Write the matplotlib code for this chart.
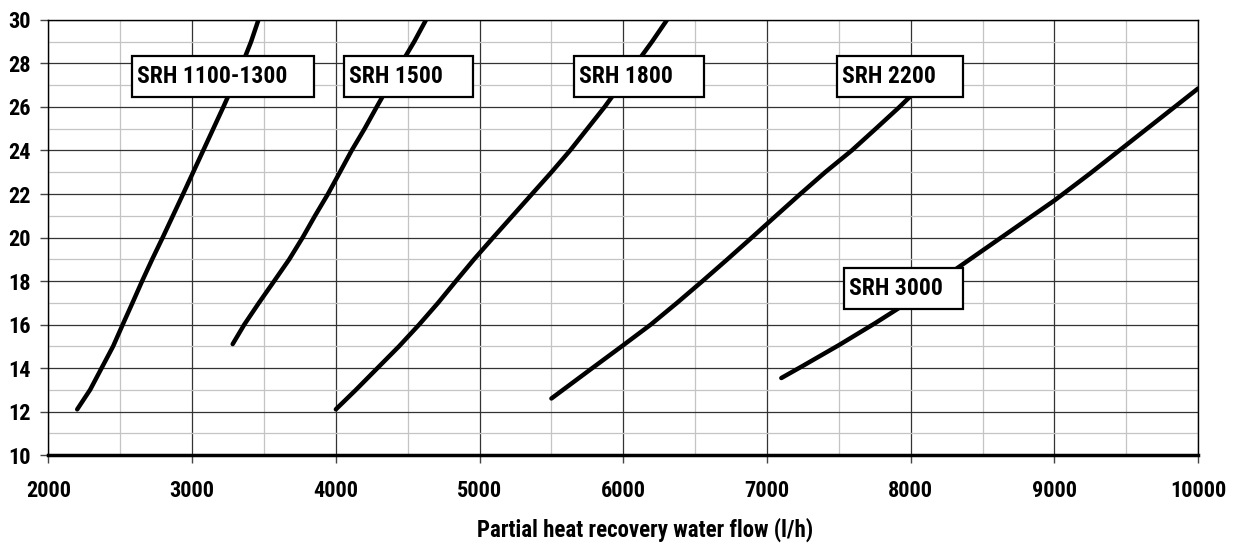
import matplotlib
matplotlib.use("Agg")
import matplotlib.pyplot as plt
import matplotlib.ticker as mticker
from matplotlib.patches import Rectangle

plt.rcParams['font.family'] = ['Roboto Condensed', 'Liberation Sans', 'DejaVu Sans']
plt.rcParams['font.weight'] = 'bold'

# curves (flow l/h, y value)
srh1100_x = [2200, 2290, 2370, 2450, 2517, 2585, 2652, 2722, 2795, 2866, 2937,
             3007, 3077, 3147, 3217, 3285, 3350, 3410, 3461]
srh1100_y = [12.1, 13, 14, 15, 16, 17, 18, 19, 20, 21, 22, 23, 24, 25, 26, 27, 28, 29, 30]

srh1500_x = [3282, 3363, 3465, 3571, 3676, 3769, 3855, 3945, 4028, 4110, 4200,
             4284, 4370, 4455, 4545, 4627]
srh1500_y = [15.1, 16, 17, 18, 19, 20, 21, 22, 23, 24, 25, 26, 27, 28, 29, 30]

srh1800_x = [4000, 4140, 4290, 4440, 4580, 4712, 4836, 4962, 5095, 5230, 5365,
             5500, 5630, 5750, 5870, 5980, 6090, 6200, 6304]
srh1800_y = [12.1, 13, 14, 15, 16, 17, 18, 19, 20, 21, 22, 23, 24, 25, 26, 27, 28, 29, 30]

srh2200_x = [5500, 5785, 6000, 6192, 6375, 6552, 6725, 6895, 7063, 7232, 7405,
             7590, 7757, 7922, 8015]
srh2200_y = [12.6, 14, 15.05, 16, 17, 18, 19, 20, 21, 22, 23, 24, 25, 26, 26.6]

srh3000_x = [7100, 7250, 7500, 7750, 8000, 8250, 8500, 8750, 9000, 9250, 9500, 9750, 10000]
srh3000_y = [13.54, 14.1, 15.05, 16.05, 17.1, 18.25, 19.4, 20.55, 21.7, 22.95, 24.25, 25.55, 26.85]

curves = [(srh1100_x, srh1100_y), (srh1500_x, srh1500_y), (srh1800_x, srh1800_y),
          (srh2200_x, srh2200_y), (srh3000_x, srh3000_y)]

# label boxes: text, left, right, bottom, top (data units)
labels = ['SRH 1100-1300', 'SRH 1500', 'SRH 1800', 'SRH 2200', 'SRH 3000']
label_left = [2581, 4057, 5657, 7487, 7536]
label_right = [3848, 4954, 6562, 8364, 8364]
label_bottom = [26.46, 26.46, 26.46, 26.46, 16.71]
label_top = [28.34, 28.34, 28.34, 28.34, 18.60]

fig = plt.figure(figsize=(12.36, 5.43), dpi=100)
ax = fig.add_axes([0.0392, 0.162, 0.9301, 0.8012])

for x, y in curves:
    ax.plot(x, y, color='black', lw=3.2, solid_capstyle='round', solid_joinstyle='round', zorder=3)

for txt, l, r, b, t in zip(labels, label_left, label_right, label_bottom, label_top):
    ax.add_patch(Rectangle((l, b), r - l, t - b, facecolor='white', edgecolor='black',
                           lw=1.6, zorder=4))
    ax.text(l + 35, (b + t) / 2, txt, fontsize=17, fontweight='bold',
            ha='left', va='center', zorder=5)

ax.set_xlim(2000, 10000)
ax.set_ylim(10, 30)
ax.xaxis.set_major_locator(mticker.MultipleLocator(1000))
ax.xaxis.set_minor_locator(mticker.MultipleLocator(500))
ax.yaxis.set_major_locator(mticker.MultipleLocator(2))
ax.yaxis.set_minor_locator(mticker.MultipleLocator(1))

ax.grid(which='major', color='#333333', lw=0.9)
ax.grid(which='minor', color='#c4c4c4', lw=0.9)
ax.set_axisbelow(True)

ax.tick_params(which='major', length=6, width=1, color='#444444', labelsize=16)
ax.tick_params(axis='x', which='major', pad=12)
ax.tick_params(axis='y', which='major', pad=7)
ax.tick_params(which='minor', length=0)
for lab in ax.get_xticklabels() + ax.get_yticklabels():
    lab.set_fontweight('bold')

for s in ['top', 'right', 'left']:
    ax.spines[s].set_linewidth(1)
    ax.spines[s].set_color('black')
ax.spines['bottom'].set_linewidth(2.5)

ax.set_xlabel('Partial heat recovery water flow (l/h)', fontsize=16.5, fontweight='bold',
              va='baseline')
ax.xaxis.set_label_coords(0.519, -0.188)

plt.savefig('out.png', dpi=100)
